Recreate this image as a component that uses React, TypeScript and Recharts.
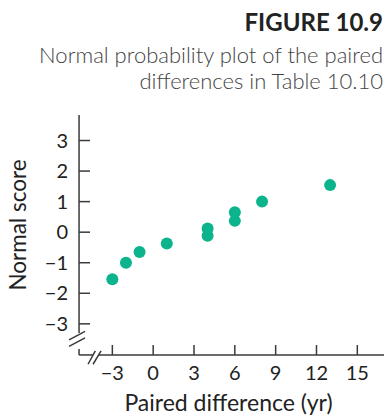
import { ScatterChart, Scatter, XAxis, YAxis, ReferenceLine } from 'recharts'

// paired differences (yr) and their normal scores
const differences = [-3, -2, -1, 1, 4, 4, 6, 6, 8, 13]
const normalScores = [-1.54, -1.0, -0.65, -0.37, -0.12, 0.12, 0.37, 0.65, 1.0, 1.54]
const xTicks = [-3, 0, 3, 6, 9, 12, 15]
const yTicks = [-3, -2, -1, 0, 1, 2, 3]

const points = differences.map((d, i) => ({ x: d, y: normalScores[i] }))

const X_DOMAIN: [number, number] = [-5.45, 16.96]
const Y_DOMAIN: [number, number] = [-4.02, 3.835]

const FONT = 'Lato, "Open Sans", sans-serif'
const INK = '#222'
const AXIS = '#3a3a3a'
const DOT = '#0bb48c'

// px -> data helpers, only used for the axis break marks
const xd = (px: number) => -3 + (px - 112.3) / 13.61
const yd = (py: number) => (232.2 - py) / 30.56

const fmt = (v: number) => (v < 0 ? '\u2212' + Math.abs(v) : String(v))

const XTick = (props: any) => {
  const { x, y, payload } = props
  return (
    <g>
      <line x1={x} y1={y} x2={x} y2={y - 10} stroke={AXIS} strokeWidth={1.5} />
      <text x={x} y={y + 25} textAnchor="middle" fill={INK} fontSize={20} fontFamily={FONT}>
        {fmt(payload.value)}
      </text>
    </g>
  )
}

const YTick = (props: any) => {
  const { x, y, payload } = props
  return (
    <g>
      <line x1={x} y1={y} x2={x + 11} y2={y} stroke={AXIS} strokeWidth={1.5} />
      <text x={x - 11} y={y} dy={7} textAnchor="end" fill={INK} fontSize={20} fontFamily={FONT}>
        {fmt(payload.value)}
      </text>
    </g>
  )
}

const seg = (x1: number, y1: number, x2: number, y2: number, key: string) => (
  <ReferenceLine
    key={key}
    segment={[{ x: xd(x1), y: yd(y1) }, { x: xd(x2), y: yd(y2) }]}
    stroke={AXIS}
    strokeWidth={1.5}
    ifOverflow="visible"
  />
)

export default function App() {
  return (
    <div style={{ position: 'absolute', left: 0, top: 0, width: 387, height: 415, background: '#fff' }}>
      <div
        style={{
          position: 'absolute',
          right: 4,
          top: 7,
          fontFamily: FONT,
          fontWeight: 700,
          fontSize: 24,
          color: '#222',
          whiteSpace: 'nowrap',
        }}
      >
        FIGURE 10.9
      </div>
      <div
        style={{
          position: 'absolute',
          right: 4,
          top: 42,
          fontFamily: FONT,
          fontWeight: 300,
          fontSize: 22,
          lineHeight: '26px',
          color: '#444',
          textAlign: 'right',
          whiteSpace: 'nowrap',
        }}
      >
        Normal probability plot of the paired
        <br />
        differences in Table 10.10
      </div>
      <ScatterChart width={387} height={415} margin={{ top: 115, right: 3, bottom: 0, left: 0 }} style={{ position: 'absolute', left: 0, top: 0 }}>
        <XAxis
          type="number"
          dataKey="x"
          domain={X_DOMAIN}
          ticks={xTicks}
          allowDataOverflow
          height={60}
          axisLine={false}
          tickLine={false}
          tickSize={0}
          tickMargin={0}
          tick={<XTick />}
          interval={0}
          label={{ value: 'Paired difference (yr)', position: 'insideBottom', offset: 4, dx: -3, fill: INK, fontSize: 23, fontFamily: FONT }}
        />
        <YAxis
          type="number"
          dataKey="y"
          domain={Y_DOMAIN}
          ticks={yTicks}
          allowDataOverflow
          width={79}
          axisLine={false}
          tickLine={false}
          tickSize={0}
          tickMargin={0}
          tick={<YTick />}
          interval={0}
          label={{ value: 'Normal score', angle: -90, position: 'insideLeft', offset: 18, dy: -10, style: { textAnchor: 'middle' }, fill: INK, fontSize: 22.5, fontFamily: FONT }}
        />
        {/* axis lines with break marks */}
        {seg(79, 115, 79, 333, 'yTop')}
        {seg(79, 349, 79, 355, 'yBot')}
        {seg(69, 340, 85, 331.5, 'yBreakA')}
        {seg(69, 346.5, 85, 338, 'yBreakB')}
        {seg(79, 355, 93, 355, 'xLeft')}
        {seg(98.6, 355, 384, 355, 'xRight')}
        {seg(88, 364.3, 95.3, 351, 'xBreakA')}
        {seg(93, 364.3, 101, 351, 'xBreakB')}
        <Scatter data={points} fill={DOT} shape={(p: any) => <circle cx={p.cx} cy={p.cy} r={6} fill={DOT} />} isAnimationActive={false} />
      </ScatterChart>
    </div>
  )
}
